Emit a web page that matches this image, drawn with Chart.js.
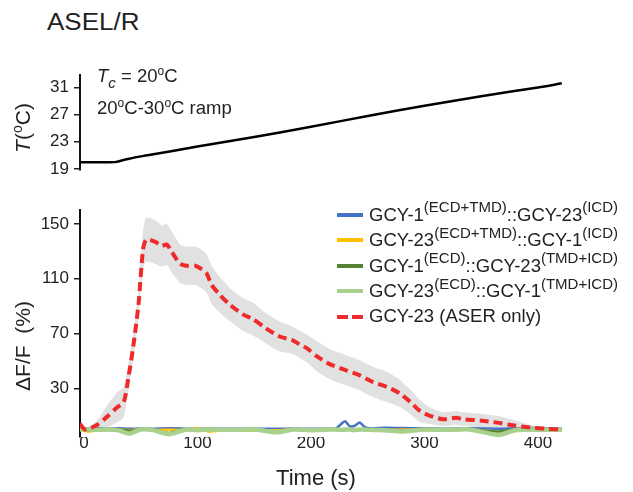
<!DOCTYPE html>
<html>
<head>
<meta charset="utf-8">
<script src="https://cdn.jsdelivr.net/npm/chart.js@4/dist/chart.umd.min.js"></script>
<style>
  body { margin: 0; background: #fff; font-family: 'Liberation Sans', Arial, sans-serif; color: #222; }
  #wrap { position: relative; width: 633px; height: 492px; overflow: hidden; }
  .box { position: absolute; left: 0; width: 633px; }
  .t { position: absolute; white-space: nowrap; line-height: 1; }
  .up { position: relative; }
  .rot { position: absolute; white-space: nowrap; line-height: 1; transform: translate(-50%, -50%) rotate(-90deg); }
</style>
</head>
<body>
<div id="wrap">
  <div class="t" style="left:47px;top:10.5px;font-size:23px;transform:scaleX(1.13);transform-origin:0 0;">ASEL/R</div>

  <div class="box" style="top:60px;height:125px;"><canvas id="tempChart" width="633" height="125"></canvas></div>
  <div class="box" style="top:195px;height:297px;"><canvas id="dffChart" width="633" height="297"></canvas></div>

  <!-- panel notes -->
  <div class="t" style="left:97px;top:67px;font-size:18.5px;"><i>T</i><span class="up" style="font-size:15px;top:6px;"><i>c</i></span> = 20<span class="up" style="font-size:12px;top:-7px;">o</span>C</div>
  <div class="t" style="left:97px;top:99px;font-size:18.5px;">20<span class="up" style="font-size:12px;top:-7px;">o</span>C-30<span class="up" style="font-size:12px;top:-7px;">o</span>C ramp</div>

  <!-- axis titles -->
  <div class="rot" style="left:22px;top:128px;font-size:21px;"><i>T</i>(<span class="up" style="font-size:14px;top:-8px;">o</span>C)</div>
  <div class="rot" style="left:22px;top:346px;font-size:21px;">ΔF/F&nbsp; (%)</div>
  <div class="t" style="left:316px;top:467px;font-size:22px;transform:translateX(-50%);">Time (s)</div>

  <div id="legend"></div>
</div>

<script>
// x axis (s) and tick values
const timeTicks = [0, 100, 200, 300, 400];
const tempTicks = [19, 23, 27, 31];
const dffTicks = [30, 70, 110, 150];

// temperature ramp
const tempTime = [-3.5, 27, 35, 45, 56, 100, 150, 200, 250, 300, 350, 400, 421];
const tempVal  = [20, 20, 20.3, 20.7, 21.0, 22.3, 23.7, 25.2, 26.8, 28.3, 29.7, 31.0, 31.6];

// GCY-23 (ASER only): mean and SEM
const aserTime = [-3.5, 1, 11, 20, 29, 35, 39, 43.5, 48, 52, 55, 62.5, 68.5, 73, 77, 84.6, 90, 98, 103.7, 108,
                  112.5, 120, 128.6, 140, 149, 160, 172, 184, 190, 196, 205, 217, 231.5, 243, 255, 267, 278, 287,
                  296, 305, 316, 328, 334, 349, 364, 378, 393, 408, 421];
const aserMean = [4, 0, 3, 9, 16, 20, 37, 61, 91, 131, 138.5, 137, 134, 135, 130, 121, 119.5, 119.5, 117, 114,
                  105.5, 98, 91, 84, 80.5, 74, 68, 65, 62, 59.5, 53.5, 47.5, 43, 39.5, 34.5, 31, 26.5, 20.5,
                  13.5, 10, 7.5, 8.5, 7.5, 6.5, 5, 3, 1.5, 0.5, 0];
const aserSem  = [1, 1, 3, 8, 11, 11, 10, 9, 10, 14, 16, 16, 15, 15, 15, 14, 14, 14, 14, 14,
                  14, 13, 12, 12, 12, 11, 11, 10, 10, 10, 11, 11, 11, 11, 11, 11, 10, 9,
                  8, 6, 5, 5, 5, 5, 5, 4, 2, 1, 1];

// chimeras, all near zero
const chimTime = [-3.5, 5, 10, 20, 30, 40, 50, 60, 75, 90, 100, 110, 125, 150, 170, 185, 200, 215, 222, 226,
                  230, 234, 238, 243, 247, 252, 265, 280, 300, 320, 340, 365, 380, 400, 421];
const blueVal   = [0.5, 0.5, 1, 0.5, 0.8, 0.5, 0.7, 0.5, 0.8, 0.6, 0.5, 0.7, 0.5, 0.6, 0.5, 0.7, 0.5, 0.6, 0.8, 3.5,
                   6, 2.5, 2.5, 5, 2, 0.8, 1.2, 1, 0.8, 0.6, 0.8, 0.5, 0.7, 1, 0.5];
const yellowVal = [-0.5, -1.5, -1, -0.5, 0, -0.5, 0, -0.5, 0, -0.5, 1, -1.5, -0.5, -1, -0.5, 0, -1, -0.5, 0, -0.5,
                   0, -0.5, 0, -0.5, 0, -1, -0.5, 0, -0.5, -1, 0, -1.5, -0.5, 0, -0.5];
const dkGreenVal = [0, -0.5, 0, -0.3, 0, -1, 0, -0.5, -2.5, 0, -0.5, 0, -0.5, 0, -2, 0, -0.5, 0, -0.3, 0,
                    -0.5, 0, -0.3, 0, -0.5, 0, -0.5, -1, 0, -0.5, 0, -1.5, 0, -0.5, 0];
const ltGreenVal = [0.3, 0, -0.3, 0, -0.5, -3, 0, -0.3, -3.5, 0, -0.5, 0, -0.3, 0, -2, 0, -0.5, 0, 0, -0.3,
                    0, 0, -0.5, 0, 0, -0.3, -0.5, -1.5, 0, -0.3, 0, -4, -0.5, 0, -0.3];

// legend text: odd parts are superscripts
const seriesLabels = [
  ['GCY-1', '(ECD+TMD)', '::GCY-23', '(ICD)'],
  ['GCY-23', '(ECD+TMD)', '::GCY-1', '(ICD)'],
  ['GCY-1', '(ECD)', '::GCY-23', '(TMD+ICD)'],
  ['GCY-23', '(ECD)', '::GCY-1', '(TMD+ICD)'],
  ['GCY-23 (ASER only)']
];
const seriesColors = ['#4472c4', '#ffc000', '#548235', '#a9d18e', '#ee2a2a'];

const FONT = "'Liberation Sans', Arial, sans-serif";
const pts = (xs, ys) => xs.map((x, i) => ({ x: x, y: ys[i] }));

const xMin = -3.5, xMax = 430;

// top panel: temperature
new Chart(document.getElementById('tempChart'), {
  type: 'line',
  data: {
    datasets: [{
      label: 'T',
      data: pts(tempTime, tempVal),
      borderColor: '#000',
      borderWidth: 2.5,
      pointRadius: 0,
      tension: 0.3
    }]
  },
  options: {
    responsive: false,
    animation: false,
    layout: { padding: { top: 7, bottom: 9, left: 0, right: 61 } },
    plugins: { legend: { display: false }, tooltip: { enabled: false } },
    scales: {
      x: { type: 'linear', min: xMin, max: xMax, display: false },
      y: {
        min: 18.87, max: 32.8,
        afterFit: s => { s.width = 80; },
        afterBuildTicks: s => { s.ticks = tempTicks.map(v => ({ value: v })); },
        ticks: { color: '#222', font: { size: 17, family: FONT }, padding: 5 },
        grid: { drawOnChartArea: false, drawTicks: true, tickLength: 6, color: '#222', lineWidth: 1.5 },
        border: { display: true, color: '#111', width: 2 }
      }
    }
  }
});

// bottom panel: dF/F
const lineDs = (i, ys, width, order) => ({
  label: seriesLabels[i].join(''),
  data: pts(chimTime, ys),
  borderColor: seriesColors[i],
  borderWidth: width,
  pointRadius: 0,
  tension: 0.2,
  fill: false,
  order: order
});

const dffChart = new Chart(document.getElementById('dffChart'), {
  type: 'line',
  data: {
    datasets: [
      lineDs(0, blueVal, 2.5, 4),
      lineDs(1, yellowVal, 2.5, 3),
      lineDs(2, dkGreenVal, 2.5, 2),
      lineDs(3, ltGreenVal, 4.5, 1),
      {
        label: seriesLabels[4].join(''),
        data: pts(aserTime, aserMean),
        borderColor: seriesColors[4],
        borderWidth: 4,
        borderDash: [9, 5],
        pointRadius: 0,
        tension: 0.25,
        fill: false,
        order: 0
      },
      {
        label: 'sem upper',
        data: pts(aserTime, aserMean.map((m, i) => m + aserSem[i])),
        borderWidth: 0,
        borderColor: 'rgba(0,0,0,0)',
        pointRadius: 0,
        tension: 0.2,
        backgroundColor: 'rgba(200,200,200,0.55)',
        fill: '+1',
        order: 10
      },
      {
        label: 'sem lower',
        data: pts(aserTime, aserMean.map((m, i) => m - aserSem[i])),
        borderWidth: 0,
        borderColor: 'rgba(0,0,0,0)',
        pointRadius: 0,
        tension: 0.2,
        fill: false,
        order: 10
      }
    ]
  },
  options: {
    responsive: false,
    animation: false,
    layout: { padding: { top: 8, bottom: 25, left: 0, right: 61 } },
    plugins: { legend: { display: false }, tooltip: { enabled: false } },
    scales: {
      x: {
        type: 'linear', min: xMin, max: xMax,
        afterFit: s => { s.height = 30; },
        afterBuildTicks: s => { s.ticks = timeTicks.map(v => ({ value: v })); },
        ticks: { color: '#222', font: { size: 17, family: FONT }, padding: -4 },
        grid: { display: false, drawTicks: false },
        border: { display: false }
      },
      y: {
        min: -5.5, max: 160,
        afterFit: s => { s.width = 80; },
        afterBuildTicks: s => { s.ticks = dffTicks.map(v => ({ value: v })); },
        ticks: { color: '#222', font: { size: 17, family: FONT }, padding: 5 },
        grid: { drawOnChartArea: false, drawTicks: true, tickLength: 6, color: '#222', lineWidth: 1.5 },
        border: { display: true, color: '#111', width: 2 }
      }
    }
  }
});

// HTML legend (needs superscripts)
const legend = document.getElementById('legend');
dffChart.data.datasets.slice(0, 5).forEach((ds, i) => {
  const cy = 215 + 25.4 * i;
  const sample = document.createElement('div');
  sample.style.cssText = 'position:absolute;left:337px;width:26px;height:4px;top:' + (cy - 2) + 'px;';
  if (ds.borderDash) {
    sample.style.background = 'repeating-linear-gradient(90deg,' + ds.borderColor + ' 0 11px,transparent 11px 15px)';
  } else {
    sample.style.background = ds.borderColor;
  }
  legend.appendChild(sample);

  const txt = document.createElement('div');
  txt.className = 't';
  txt.style.cssText += 'left:369px;font-size:18.5px;top:' + (cy + 6.5 - 0.8465 * 18.5) + 'px;';
  txt.innerHTML = seriesLabels[i].map((p, k) =>
    k % 2 ? '<span class="up" style="font-size:15px;top:-8.5px;">' + p + '</span>' : p).join('');
  legend.appendChild(txt);
});
</script>
</body>
</html>
